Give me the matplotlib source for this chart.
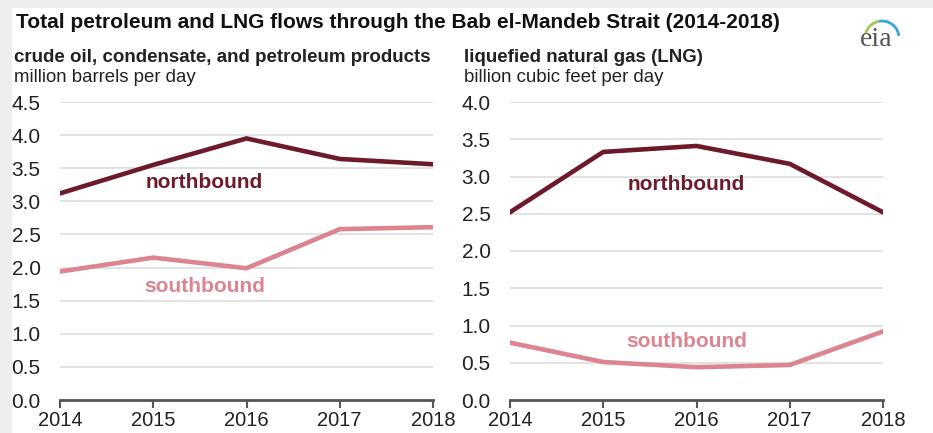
import matplotlib
matplotlib.use("Agg")
import matplotlib.pyplot as plt
from matplotlib.patches import Rectangle, Arc

# Data
years = [2014, 2015, 2016, 2017, 2018]
oil_north = [3.12, 3.55, 3.95, 3.64, 3.56]
oil_south = [1.94, 2.15, 1.99, 2.58, 2.61]
lng_north = [2.52, 3.33, 3.41, 3.17, 2.52]
lng_south = [0.77, 0.51, 0.44, 0.47, 0.92]

NORTH = "#6d1b2b"
SOUTH = "#dc8490"
TEXT = "#222222"

plt.rcParams["font.family"] = ["Liberation Sans", "DejaVu Sans"]

fig = plt.figure(figsize=(9.33, 4.33), dpi=100)

# light grey frame around the image, like the screenshot
fig.patches.append(Rectangle((0, 0), 1, 1, transform=fig.transFigure,
                             facecolor="#eeeeee", edgecolor="none", zorder=-2))
fig.patches.append(Rectangle((12 / 933, 0), 1, 1 - 8 / 433, transform=fig.transFigure,
                             facecolor="white", edgecolor="none", zorder=-1))


def panel(rect, north, south, ymax, north_xy, south_xy):
    ax = fig.add_axes(rect)
    ax.set_facecolor("none")
    ax.plot(years, north, color=NORTH, lw=3.3, solid_joinstyle="miter", zorder=3)
    ax.plot(years, south, color=SOUTH, lw=3.3, solid_joinstyle="miter", zorder=3)
    ax.set_xlim(2014, 2018)
    ax.set_ylim(0, ymax)
    ticks = [i * 0.5 for i in range(int(ymax / 0.5) + 1)]
    ax.set_yticks(ticks)
    ax.set_yticklabels([f"{t:.1f}" for t in ticks])
    ax.set_xticks(years)
    ax.grid(axis="y", color="#dddddd", lw=1.2)
    for s in ["top", "right", "left"]:
        ax.spines[s].set_visible(False)
    ax.spines["bottom"].set_color("#555555")
    ax.spines["bottom"].set_linewidth(2)
    ax.tick_params(axis="y", length=0, pad=14, labelsize=15, labelcolor=TEXT)
    ax.tick_params(axis="x", direction="out", length=6, width=1.5, color="#555555",
                   pad=2, labelsize=14.5, labelcolor=TEXT)
    ax.text(north_xy[0], north_xy[1], "northbound", color=NORTH, fontsize=15,
            fontweight="bold", ha="center", va="center")
    ax.text(south_xy[0], south_xy[1], "southbound", color=SOUTH, fontsize=15,
            fontweight="bold", ha="center", va="center")
    return ax


panel([60 / 933, 33 / 433, 373 / 933, 298 / 433], oil_north, oil_south, 4.5,
      (2015.55, 3.29), (2015.55, 1.72))
panel([510 / 933, 33 / 433, 373 / 933, 298 / 433], lng_north, lng_south, 4.0,
      (2015.89, 2.89), (2015.9, 0.78))

fig.text(16 / 933, 1 - 22 / 433,
         "Total petroleum and LNG flows through the Bab el-Mandeb Strait (2014-2018)",
         fontsize=15, fontweight="bold", color="#111111", va="center")
fig.text(14 / 933, 1 - 57 / 433, "crude oil, condensate, and petroleum products",
         fontsize=13.5, fontweight="bold", color=TEXT, va="center")
fig.text(14 / 933, 1 - 78 / 433, "million barrels per day",
         fontsize=13.4, color=TEXT, va="center")
fig.text(464 / 933, 1 - 57 / 433, "liquefied natural gas (LNG)",
         fontsize=13.5, fontweight="bold", color=TEXT, va="center")
fig.text(464 / 933, 1 - 78 / 433, "billion cubic feet per day",
         fontsize=13.4, color=TEXT, va="center")

# eia logo: text plus a small swoosh
fig.text(876 / 933, 1 - 40 / 433, "eia", fontsize=20, color="#555555",
         family="Liberation Serif", ha="center", va="center")
fig.patches.append(Arc((882 / 933, 1 - 38 / 433), 34 / 933, 34 / 433, theta1=95, theta2=150,
                       transform=fig.transFigure, color="#9bcb55", lw=2))
fig.patches.append(Arc((882 / 933, 1 - 38 / 433), 34 / 933, 34 / 433, theta1=15, theta2=95,
                       transform=fig.transFigure, color="#3aa6d8", lw=2))

fig.savefig("out.png", dpi=100)
